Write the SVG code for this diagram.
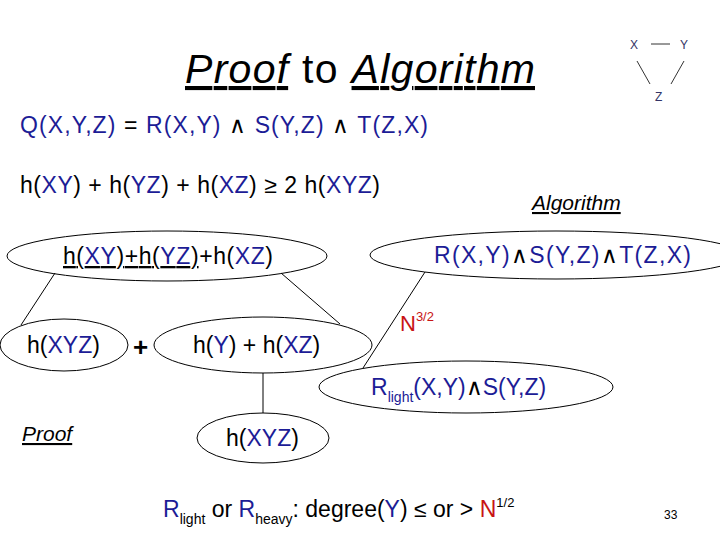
<svg xmlns="http://www.w3.org/2000/svg" width="720" height="540" viewBox="0 0 720 540">
<style>
text{font-family:"Liberation Sans",Arial,sans-serif;fill:#000}
.b{fill:#1c1c96}
.r{fill:#c81414}
.m{font-size:23px}
.n{fill:none;stroke:#000;stroke-width:1}
.c line{stroke:#000;stroke-width:1}
.t{font-size:12px;fill:#333366}
</style>
<rect width="720" height="540" fill="#fff"/>
<g id="title"><text x="185" y="83" font-size="41" textLength="350"><tspan font-style="italic" text-decoration="underline">Proof</tspan> to <tspan font-style="italic" text-decoration="underline">Algorithm</tspan></text></g>
<g id="triangle">
<text class="t" x="630" y="49">X</text><text class="t" x="680" y="49">Y</text><text class="t" x="655" y="101">Z</text>
<line x1="651" y1="44" x2="670" y2="44" stroke="#333" stroke-width="1"/>
<line x1="637" y1="61" x2="650" y2="84" stroke="#333" stroke-width="1"/>
<line x1="684" y1="61" x2="671" y2="84" stroke="#333" stroke-width="1"/>
</g>
<text class="m" x="20" y="133" textLength="408"><tspan class="b">Q(X,Y,Z)</tspan> = <tspan class="b">R(X,Y)</tspan> ∧ <tspan class="b">S(Y,Z)</tspan> ∧ <tspan class="b">T(Z,X)</tspan></text>
<text class="m" x="20" y="193" textLength="360">h(<tspan class="b">XY</tspan>) + h(<tspan class="b">YZ</tspan>) + h(<tspan class="b">XZ</tspan>) ≥ 2 h(<tspan class="b">XYZ</tspan>)</text>
<text x="532" y="210" font-size="21" font-style="italic" text-decoration="underline">Algorithm</text>
<text x="22" y="441" font-size="21" font-style="italic" text-decoration="underline">Proof</text>
<g class="c" id="connectors">
<line x1="55" y1="273" x2="21" y2="325"/>
<line x1="281" y1="273" x2="340" y2="324"/>
<line x1="425" y1="272" x2="363" y2="368"/>
<line x1="263" y1="373" x2="263" y2="413"/>
</g>
<text x="400" y="331" font-size="22" class="r">N<tspan font-size="13" dy="-10">3/2</tspan></text>
<g id="n1"><ellipse class="n" cx="167" cy="256" rx="160" ry="25"/>
<text class="m" x="63" y="264" textLength="210"><tspan text-decoration="underline">h(<tspan class="b">XY</tspan>)+h(<tspan class="b">YZ</tspan>)</tspan>+h(<tspan class="b">XZ</tspan>)</text></g>
<g id="n2"><ellipse class="n" cx="556" cy="255" rx="186" ry="24"/>
<text class="m b" x="434" y="263" textLength="257">R(X,Y)<tspan fill="#000">∧</tspan>S(Y,Z)<tspan fill="#000">∧</tspan>T(Z,X)</text></g>
<g id="n3"><ellipse class="n" cx="64" cy="345" rx="64" ry="26"/>
<text class="m" x="27" y="353">h(<tspan class="b">XYZ</tspan>)</text></g>
<text x="133" y="356" font-size="26" font-weight="bold">+</text>
<g id="n4"><ellipse class="n" cx="263" cy="345" rx="109" ry="28"/>
<text class="m" x="193" y="353">h(<tspan class="b">Y</tspan>)  + h(<tspan class="b">XZ</tspan>)</text></g>
<g id="n5"><ellipse class="n" cx="466" cy="387" rx="147" ry="26"/>
<text class="m b" x="371" y="395">R<tspan font-size="14" dy="7">light</tspan><tspan dy="-7">(X,Y)</tspan><tspan fill="#000">∧</tspan>S(Y,Z)</text></g>
<g id="n6"><ellipse class="n" cx="263" cy="438" rx="66" ry="25"/>
<text class="m" x="226" y="446">h(<tspan class="b">XYZ</tspan>)</text></g>
<text class="m" x="163" y="517"><tspan class="b">R</tspan><tspan font-size="14" dy="7">light</tspan><tspan dy="-7"> or </tspan><tspan class="b">R</tspan><tspan font-size="14" dy="7">heavy</tspan><tspan dy="-7">: degree(</tspan><tspan class="b">Y</tspan>) ≤ or &gt; <tspan class="r">N</tspan><tspan font-size="13" dy="-10">1/2</tspan></text>
<text x="664" y="519" font-size="12" fill="#888">33</text>
</svg>
